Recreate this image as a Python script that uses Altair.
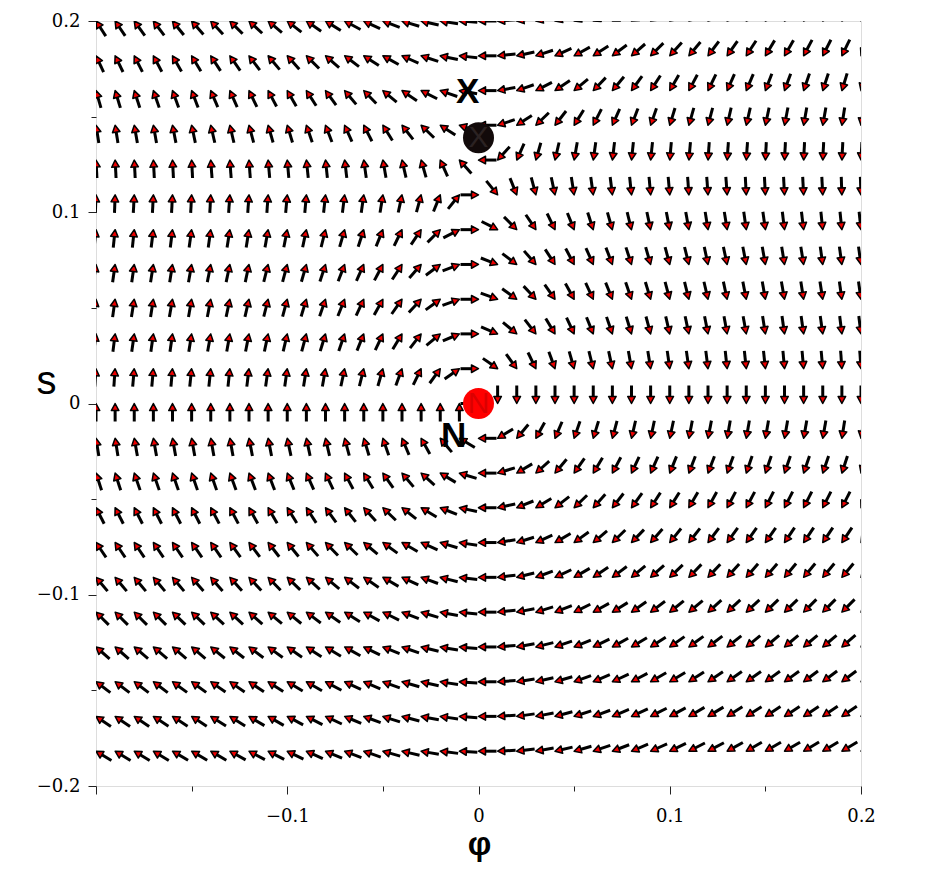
import altair as alt
import pandas as pd

# ---- grid of the direction field (arrow tips sit on these points) ----
phi_values = [-0.20, -0.19, -0.18, -0.17, -0.16, -0.15, -0.14, -0.13, -0.12, -0.11,
              -0.10, -0.09, -0.08, -0.07, -0.06, -0.05, -0.04, -0.03, -0.02, -0.01,
              0.00, 0.01, 0.02, 0.03, 0.04, 0.05, 0.06, 0.07, 0.08, 0.09,
              0.10, 0.11, 0.12, 0.13, 0.14, 0.15, 0.16, 0.17, 0.18, 0.19, 0.20]
s_values = [0.2000, 0.1818, 0.1636, 0.1455, 0.1273, 0.1091, 0.0909, 0.0727, 0.0545,
            0.0364, 0.0182, 0.0000, -0.0182, -0.0364, -0.0545, -0.0727, -0.0909,
            -0.1091, -0.1273, -0.1455, -0.1636, -0.1818]

# ---- arrow directions (degrees, counter-clockwise from +phi), one list per row of s ----
ang_s200 = [123, 124, 126, 127, 129, 131, 133, 135, 137, 140, 142, 145, 148, 152, 155, 159, 163, 167, 171, 176,
            180, -176, -171, -167, -163, -159, -155, -152, -148, -145, -142, -140, -137, -135, -133, -131, -129, -127, -126, -124, -123]
ang_s182 = [115, 116, 117, 118, 120, 121, 123, 125, 127, 130, 132, 135, 139, 143, 147, 151, 156, 162, 168, 174,
            180, -174, -168, -162, -156, -151, -147, -143, -139, -135, -132, -130, -127, -125, -123, -121, -120, -118, -117, -116, -115]
ang_s164 = [106, 107, 108, 109, 110, 111, 113, 114, 116, 118, 120, 123, 126, 130, 134, 140, 146, 153, 161, 170,
            180, -170, -161, -153, -146, -140, -134, -130, -126, -123, -120, -118, -116, -114, -113, -111, -110, -109, -108, -107, -106]
ang_s145 = [99, 99, 100, 100, 101, 102, 103, 103, 105, 106, 107, 109, 111, 114, 117, 122, 128, 136, 147, 162,
            180, -162, -147, -136, -128, -122, -117, -114, -111, -109, -107, -106, -105, -103, -103, -102, -101, -100, -100, -99, -99]
ang_s127 = [93, 93, 93, 93, 93, 93, 94, 94, 94, 95, 95, 96, 96, 97, 98, 100, 103, 106, 114, 132,
            180, -132, -114, -106, -103, -100, -98, -97, -96, -96, -95, -95, -94, -94, -94, -93, -93, -93, -93, -93, -93]
ang_s109 = [88, 88, 87, 87, 87, 87, 87, 86, 86, 86, 85, 85, 84, 83, 82, 81, 78, 75, 68, 51,
            0, -51, -68, -75, -78, -81, -82, -83, -84, -85, -85, -86, -86, -86, -87, -87, -87, -87, -87, -88, -88]
ang_s091 = [84, 84, 84, 83, 83, 82, 82, 81, 81, 80, 79, 78, 76, 74, 72, 68, 64, 56, 45, 27,
            0, -27, -45, -56, -64, -68, -72, -74, -76, -78, -79, -80, -81, -81, -82, -82, -83, -83, -84, -84, -84]
ang_s073 = [82, 82, 82, 81, 81, 80, 79, 78, 78, 76, 75, 74, 72, 69, 66, 62, 57, 49, 37, 21,
            0, -21, -37, -49, -57, -62, -66, -69, -72, -74, -75, -76, -78, -78, -79, -80, -81, -81, -82, -82, -82]
ang_s055 = [82, 82, 81, 81, 80, 80, 79, 78, 77, 76, 75, 73, 71, 68, 65, 61, 55, 47, 36, 20,
            0, -20, -36, -47, -55, -61, -65, -68, -71, -73, -75, -76, -77, -78, -79, -80, -80, -81, -81, -82, -82]
ang_s036 = [83, 83, 82, 82, 82, 81, 80, 80, 79, 78, 77, 75, 73, 71, 68, 65, 59, 52, 40, 23,
            0, -23, -40, -52, -59, -65, -68, -71, -73, -75, -77, -78, -79, -80, -80, -81, -82, -82, -82, -83, -83]
ang_s018 = [86, 86, 85, 85, 85, 84, 84, 84, 83, 82, 82, 81, 80, 78, 76, 74, 70, 64, 54, 35,
            0, -35, -54, -64, -70, -74, -76, -78, -80, -81, -82, -82, -83, -84, -84, -84, -85, -85, -85, -86, -86]
ang_s000 = [90, 90, 90, 90, 90, 90, 90, 90, 90, 90, 90, 90, 90, 90, 90, 90, 90, 90, 90, 90,
            0, -90, -90, -90, -90, -90, -90, -90, -90, -90, -90, -90, -90, -90, -90, -90, -90, -90, -90, -90, -90]
ang_m018 = [99, 99, 100, 100, 100, 100, 100, 100, 101, 101, 102, 102, 103, 105, 107, 109, 113, 119, 130, 149,
            180, -149, -130, -119, -113, -109, -107, -105, -103, -102, -102, -101, -101, -100, -100, -100, -100, -100, -100, -99, -99]
ang_m036 = [108, 108, 109, 109, 109, 109, 109, 110, 111, 111, 112, 114, 115, 118, 121, 125, 130, 138, 149, 163,
            180, -163, -149, -138, -130, -125, -121, -118, -115, -114, -112, -111, -111, -110, -109, -109, -109, -109, -109, -108, -108]
ang_m055 = [117, 117, 117, 117, 117, 117, 118, 118, 119, 120, 122, 123, 126, 128, 132, 136, 142, 149, 158, 168,
            180, -168, -158, -149, -142, -136, -132, -128, -126, -123, -122, -120, -119, -118, -118, -117, -117, -117, -117, -117, -117]
ang_m073 = [124, 124, 124, 124, 124, 125, 125, 126, 127, 128, 129, 131, 134, 136, 140, 144, 150, 156, 163, 171,
            180, -171, -163, -156, -150, -144, -140, -136, -134, -131, -129, -128, -127, -126, -125, -125, -124, -124, -124, -124, -124]
ang_m091 = [130, 130, 130, 130, 130, 131, 131, 132, 133, 134, 136, 138, 140, 143, 146, 150, 155, 160, 166, 173,
            180, -173, -166, -160, -155, -150, -146, -143, -140, -138, -136, -134, -133, -132, -131, -131, -130, -130, -130, -130, -130]
ang_m109 = [135, 135, 135, 135, 136, 136, 137, 137, 138, 140, 141, 143, 145, 148, 151, 154, 159, 163, 169, 174,
            180, -174, -169, -163, -159, -154, -151, -148, -145, -143, -141, -140, -138, -137, -137, -136, -136, -135, -135, -135, -135]
ang_m127 = [139, 139, 140, 140, 140, 140, 141, 142, 143, 144, 145, 147, 149, 151, 154, 158, 161, 166, 170, 175,
            180, -175, -170, -166, -161, -158, -154, -151, -149, -147, -145, -144, -143, -142, -141, -140, -140, -140, -140, -139, -139]
ang_m145 = [143, 143, 143, 143, 144, 144, 145, 145, 146, 147, 149, 150, 152, 155, 157, 160, 164, 167, 171, 176,
            180, -176, -171, -167, -164, -160, -157, -155, -152, -150, -149, -147, -146, -145, -145, -144, -144, -143, -143, -143, -143]
ang_m164 = [146, 146, 146, 147, 147, 147, 148, 148, 149, 150, 152, 153, 155, 157, 160, 162, 165, 169, 172, 176,
            180, -176, -172, -169, -165, -162, -160, -157, -155, -153, -152, -150, -149, -148, -148, -147, -147, -147, -146, -146, -146]
ang_m182 = [149, 149, 149, 149, 150, 150, 150, 151, 152, 153, 154, 156, 157, 159, 161, 164, 167, 170, 173, 177,
            180, -177, -173, -170, -167, -164, -161, -159, -157, -156, -154, -153, -152, -151, -150, -150, -150, -149, -149, -149, -149]

angle_rows = [ang_s200, ang_s182, ang_s164, ang_s145, ang_s127, ang_s109, ang_s091, ang_s073,
              ang_s055, ang_s036, ang_s018, ang_s000, ang_m018, ang_m036, ang_m055, ang_m073,
              ang_m091, ang_m109, ang_m127, ang_m145, ang_m164, ang_m182]

# ---- fixed points and their labels ----
fp_name = ["N", "X"]
fp_phi = [0.0, 0.0]
fp_s = [0.0, 0.139]
fp_color = ["#ff0000", "#120a0a"]
fp_mark_color = ["#b00000", "#4a4040"]
lab_text = ["X", "N"]
lab_phi = [-0.0057, -0.013]
lab_s = [0.1572, -0.0225]

tick_vals = [-0.2, -0.15, -0.1, -0.05, 0.0, 0.05, 0.1, 0.15, 0.2]

# ---- tables for the library ----
records = []
for s, row in zip(s_values, angle_rows):
    for p, a in zip(phi_values, row):
        # symbol rotation is clockwise from "up"
        records.append({"phi": p, "s": s, "rot": (90 - a) % 360})
field = pd.DataFrame(records)
fixed = pd.DataFrame({"phi": fp_phi, "s": fp_s, "col": fp_color,
                      "name": fp_name, "mcol": fp_mark_color})
labels = pd.DataFrame({"phi": lab_phi, "s": lab_s, "t": lab_text})

major = "abs(round(datum.value*100)) % 10 == 0"
tick_size = {"condition": {"test": major, "value": 8}, "value": 5}

x_axis = alt.Axis(
    values=tick_vals, domain=False, grid=False,
    tickSize=tick_size, tickColor="#222222", tickWidth=1,
    labelExpr="abs(datum.value) < 1e-9 ? '0' : ((abs(round(datum.value*100)) % 10 != 0 || datum.value < -0.19) ? '' : format(datum.value, '.1f'))",
    labelFont="DejaVu Serif", labelFontSize=18, labelColor="black", labelPadding=13,
    labelFlush=False, labelOverlap=False,
    title="φ", titleFont="Liberation Sans", titleFontSize=33, titleFontWeight="bold",
    titleColor="black", titleX=383, titleY=58, titleAlign="center", titleBaseline="middle",
)
y_axis = alt.Axis(
    values=tick_vals, domain=False, grid=False,
    tickSize=tick_size, tickColor="#222222", tickWidth=1,
    labelExpr="abs(datum.value) < 1e-9 ? '0' : ((abs(round(datum.value*100)) % 10 != 0) ? '' : format(datum.value, '.1f'))",
    labelFont="DejaVu Serif", labelFontSize=18, labelColor="black", labelPadding=8,
    labelFlush=False, labelOverlap=False,
    title="s", titleFont="Liberation Sans", titleFontSize=40, titleFontWeight="normal",
    titleColor="black", titleAngle=0, titleX=-50, titleY=360, titleAlign="center",
    titleBaseline="middle",
)
xs = alt.Scale(domain=[-0.2, 0.2], nice=False, zero=False)
ys = alt.Scale(domain=[-0.2, 0.2], nice=False, zero=False)
X = alt.X("phi:Q", scale=xs, axis=x_axis)
Y = alt.Y("s:Q", scale=ys, axis=y_axis)

shaft = alt.Chart(field).mark_point(
    shape="M0,0.6L0,2", filled=False, stroke="black", strokeWidth=3,
    size=324, opacity=1, clip=True,
).encode(x=X, y=Y, angle=alt.Angle("rot:Q", scale=None))

head = alt.Chart(field).mark_point(
    shape="M0,0L-0.42,0.78L0.42,0.78Z", filled=True, fill="#ee0000",
    stroke="black", strokeWidth=1.5, strokeJoin="round", size=324, opacity=1, clip=True,
).encode(x=X, y=Y, angle=alt.Angle("rot:Q", scale=None))

dots = alt.Chart(fixed).mark_circle(size=962, opacity=1).encode(
    x=X, y=Y, color=alt.Color("col:N", scale=None)
)
dot_marks = alt.Chart(fixed).mark_text(
    font="Liberation Sans", fontSize=30, opacity=0.45, baseline="middle", align="center"
).encode(x=X, y=Y, text="name:N", color=alt.Color("mcol:N", scale=None))

texts = alt.Chart(labels).mark_text(
    font="Liberation Sans", fontSize=35, fontWeight="bold", color="black",
    baseline="alphabetic", align="center"
).encode(x=X, y=Y, text="t:N")

chart = alt.layer(shaft, head, dots, dot_marks, texts).properties(
    width=765, height=765,
    autosize=alt.AutoSizeParams(type="none"),
    padding={"left": 88, "top": 13, "right": 60, "bottom": 84},
).configure_view(stroke="#888888", strokeWidth=2).configure(background="white")

chart.save("out.html", embed_options={"renderer": "svg", "actions": False})
